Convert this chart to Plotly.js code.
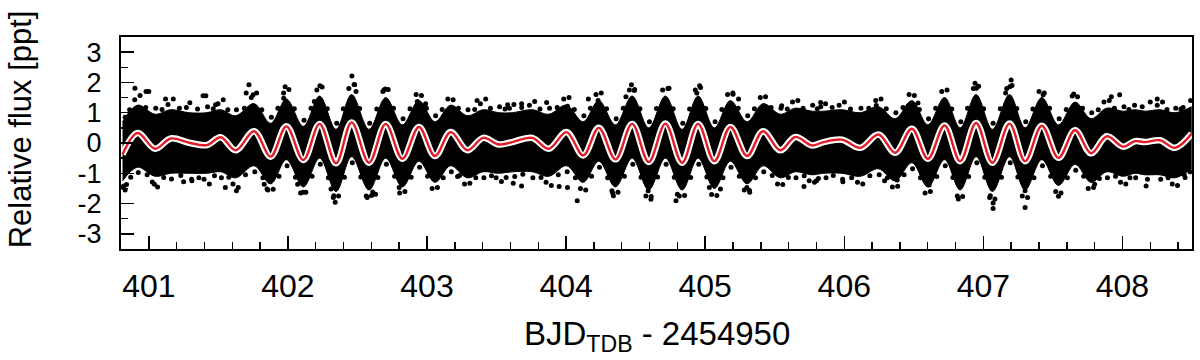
<!DOCTYPE html>
<html>
<head>
<meta charset="utf-8">
<script src="https://cdn.plot.ly/plotly-3.0.1.min.js"></script>
<style>
  html, body { margin: 0; padding: 0; background: #fff; }
  #lc { width: 1200px; height: 360px; }
</style>
</head>
<body>
<div id="lc"></div>
<script>
// model curve: turning points (days, ppt)
var modelX = [400.811, 400.919, 401.045, 401.158, 401.29, 401.417, 401.517, 401.625, 401.757, 401.876,
  401.989, 402.111, 402.228, 402.346, 402.458, 402.583, 402.703, 402.823, 402.942, 403.057,
  403.170, 403.290, 403.404, 403.517, 403.613, 403.756, 403.876, 404.003, 404.123, 404.235,
  404.355, 404.475, 404.594, 404.714, 404.834, 404.949, 405.066, 405.181, 405.301, 405.416,
  405.540, 405.648, 405.768, 405.851, 405.983, 406.115, 406.246, 406.366, 406.486, 406.601,
  406.721, 406.833, 406.948, 407.065, 407.188, 407.300, 407.420, 407.540, 407.659, 407.774,
  407.887, 408.006, 408.091, 408.162, 408.270, 408.378, 408.498];
var modelY = [-0.38, 0.33, -0.19, 0.15, 0.01, -0.07, 0.19, -0.24, 0.39, -0.45,
  0.55, -0.56, 0.63, -0.67, 0.68, -0.65, 0.63, -0.52, 0.53, -0.43,
  0.36, -0.24, 0.17, -0.05, 0.03, 0.17, -0.19, 0.36, -0.41, 0.50,
  -0.54, 0.63, -0.63, 0.64, -0.65, 0.63, -0.60, 0.53, -0.43, 0.39,
  -0.24, 0.20, -0.08, 0.03, 0.11, -0.16, 0.28, -0.32, 0.47, -0.52,
  0.58, -0.60, 0.66, -0.65, 0.64, -0.60, 0.57, -0.49, 0.42, -0.34,
  0.22, -0.12, 0.06, 0.03, 0.09, -0.16, 0.31];

// edges of the dense part of the point cloud, at the same times
var cloudHi = [0.70, 1.25, 0.95, 1.10, 1.00, 1.00, 1.10, 0.90, 1.30, 0.65,
  1.45, 0.55, 1.55, 0.45, 1.60, 0.45, 1.50, 0.60, 1.40, 0.70,
  1.25, 0.90, 1.10, 1.00, 1.00, 1.10, 0.95, 1.25, 0.70, 1.40,
  0.60, 1.55, 0.50, 1.55, 0.45, 1.55, 0.50, 1.40, 0.70, 1.30,
  0.95, 1.15, 1.05, 1.05, 1.10, 1.00, 1.20, 0.80, 1.40, 0.60,
  1.50, 0.50, 1.60, 0.45, 1.60, 0.50, 1.50, 0.60, 1.35, 0.80,
  1.15, 1.05, 1.10, 1.05, 1.10, 1.00, 1.20];
var cloudLo = [-1.25, -0.80, -1.10, -1.00, -1.00, -1.00, -0.95, -1.15, -0.75, -1.35,
  -0.55, -1.45, -0.50, -1.60, -0.45, -1.55, -0.50, -1.45, -0.60, -1.30,
  -0.75, -1.15, -0.95, -1.00, -0.95, -0.95, -1.10, -0.75, -1.30, -0.60,
  -1.45, -0.50, -1.55, -0.50, -1.55, -0.50, -1.50, -0.60, -1.35, -0.75,
  -1.15, -0.95, -1.05, -1.00, -1.00, -1.10, -0.85, -1.25, -0.65, -1.45,
  -0.55, -1.55, -0.45, -1.60, -0.45, -1.55, -0.55, -1.40, -0.70, -1.30,
  -0.95, -1.10, -1.00, -1.05, -1.05, -1.15, -0.85];

// loose points along the edges of the cloud
var edgePts = [
  [400.812,-1.46],[400.83,0.85],[400.84,-1.37],[400.862,1.1],[400.870,-1.13],
  [400.899,1.43],[400.937,1.57],[400.924,-0.97],[400.978,1.17],[400.988,-1.05],
  [401.025,-1.29],[401.063,-1.45],[401.05,1.15],[401.095,1.11],[401.107,-1.14],
  [401.138,1.27],[401.176,1.45],[401.163,-1.19],[401.22,1.15],[401.23,-1.07],
  [401.27,1.17],[401.308,-1.2],[401.295,1.33],[401.35,1.12],[401.36,-1.15],
  [401.397,-1.2],[401.435,-1.35],[401.422,1.2],[401.463,1.13],[401.472,-1.08],
  [401.497,1.3],[401.535,1.43],[401.522,-1.15],[401.568,1.1],[401.575,-1.13],
  [401.605,-1.35],[401.643,-1.47],[401.63,1.1],[401.687,1.15],[401.695,-1.05],
  [401.737,1.5],[401.775,1.65],[401.762,-0.95],[401.812,1.1],[401.82,-1.15],
  [401.856,-1.55],[401.894,-1.53],[401.881,0.85],[401.928,1.15],[401.936,-1.1],
  [401.969,1.65],[402.007,1.77],[401.994,-0.75],[402.046,1.13],[402.054,-1.13],
  [402.091,-1.65],[402.129,-1.63],[402.116,0.75],[402.166,1.15],[402.174,-1.1],
  [402.208,1.75],[402.246,1.85],[402.233,-0.7],[402.283,1.13],[402.291,-1.15],
  [402.326,-1.8],[402.364,-1.75],[402.351,0.65],[402.398,1.13],[402.406,-1.13],
  [402.438,1.8],[402.476,1.93],[402.463,-0.65],[402.516,1.14],[402.524,-1.12],
  [402.563,-1.75],[402.601,-1.73],[402.588,0.65],[402.639,1.12],[402.647,-1.14],
  [402.683,1.7],[402.721,1.77],[402.708,-0.7],[402.759,1.15],[402.767,-1.1],
  [402.803,-1.65],[402.841,-1.6],[402.828,0.8],[402.878,1.13],[402.886,-1.13],
  [402.922,1.6],[402.96,1.57],[402.947,-0.8],[402.996,1.15],[403.004,-1.1],
  [403.037,-1.5],[403.075,-1.47],[403.062,0.9],[403.109,1.11],[403.117,-1.15],
  [403.15,1.45],[403.188,1.43],[403.175,-0.95],[403.226,1.15],[403.234,-1.07],
  [403.27,-1.35],[403.308,-1.33],[403.295,1.1],[403.343,1.11],[403.351,-1.15],
  [403.384,1.3],[403.422,1.45],[403.409,-1.15],[403.456,1.15],[403.464,-1.08],
  [403.497,-1.15],[403.535,-1.27],[403.522,1.2],[403.561,1.12],[403.569,-1.14],
  [403.593,1.15],[403.631,-1.11],[403.625,1.27],[403.681,1.17],[403.689,-1.03],
  [403.736,1.25],[403.774,1.37],[403.761,-1.15],[403.812,1.12],[403.82,-1.14],
  [403.856,-1.3],[403.894,-1.4],[403.881,1.15],[403.936,1.17],[403.944,-1.05],
  [403.983,1.45],[404.021,1.5],[404.008,-0.95],[404.059,1.11],[404.067,-1.15],
  [404.103,-1.5],[404.141,-1.55],[404.128,0.9],[404.175,1.15],[404.183,-1.1],
  [404.215,1.6],[404.253,1.65],[404.24,-0.8],[404.291,1.13],[404.299,-1.15],
  [404.335,-1.65],[404.373,-1.63],[404.36,0.8],[404.411,1.15],[404.419,-1.1],
  [404.455,1.75],[404.493,1.77],[404.48,-0.7],[404.531,1.13],[404.539,-1.13],
  [404.574,-1.75],[404.612,-1.77],[404.599,0.7],[404.65,1.14],[404.658,-1.12],
  [404.694,1.75],[404.732,1.8],[404.719,-0.7],[404.77,1.13],[404.778,-1.13],
  [404.814,-1.75],[404.852,-1.73],[404.839,0.65],[404.888,1.12],[404.896,-1.14],
  [404.929,1.75],[404.967,1.83],[404.954,-0.7],[405.004,1.14],[405.012,-1.12],
  [405.046,-1.7],[405.084,-1.73],[405.071,0.7],[405.12,1.11],[405.128,-1.15],
  [405.161,1.6],[405.199,1.65],[405.186,-0.8],[405.237,1.15],[405.245,-1.1],
  [405.281,-1.55],[405.319,-1.57],[405.306,0.9],[405.354,1.13],[405.362,-1.15],
  [405.396,1.5],[405.434,1.53],[405.421,-0.95],[405.474,1.17],[405.482,-1.07],
  [405.52,-1.35],[405.558,-1.37],[405.545,1.15],[405.59,1.12],[405.598,-1.14],
  [405.628,1.35],[405.666,1.4],[405.653,-1.15],[405.704,1.15],[405.712,-1.08],
  [405.748,-1.25],[405.786,-1.3],[405.773,1.25],[405.806,1.13],[405.814,-1.17],
  [405.831,1.2],[405.869,-1.15],[405.865,1.3],[405.913,1.17],[405.921,-1.07],
  [405.963,1.25],[406.001,1.35],[405.988,-1.2],[406.045,1.12],[406.053,-1.15],
  [406.095,-1.3],[406.133,-1.35],[406.12,1.15],[406.176,1.15],[406.184,-1.08],
  [406.226,1.4],[406.264,1.45],[406.251,-1.05],[406.302,1.13],[406.31,-1.15],
  [406.346,-1.45],[406.384,-1.43],[406.371,1.0],[406.422,1.17],[406.43,-1.05],
  [406.466,1.6],[406.504,1.57],[406.491,-0.85],[406.54,1.11],[406.548,-1.15],
  [406.581,-1.65],[406.619,-1.6],[406.606,0.8],[406.657,1.15],[406.665,-1.11],
  [406.701,1.7],[406.739,1.75],[406.726,-0.75],[406.773,1.12],[406.781,-1.14],
  [406.813,-1.75],[406.851,-1.77],[406.838,0.7],[406.886,1.15],[406.894,-1.11],
  [406.928,1.8],[406.966,1.87],[406.953,-0.65],[407.002,1.13],[407.01,-1.13],
  [407.045,-1.8],[407.083,-1.85],[407.07,0.65],[407.122,1.13],[407.13,-1.13],
  [407.168,1.8],[407.206,1.9],[407.193,-0.65],[407.24,1.14],[407.248,-1.12],
  [407.28,-1.75],[407.318,-1.8],[407.305,0.7],[407.356,1.12],[407.364,-1.15],
  [407.4,1.7],[407.438,1.65],[407.425,-0.75],[407.476,1.15],[407.484,-1.1],
  [407.52,-1.6],[407.558,-1.65],[407.545,0.8],[407.596,1.11],[407.604,-1.15],
  [407.639,1.55],[407.677,1.53],[407.664,-0.9],[407.713,1.15],[407.721,-1.1],
  [407.754,-1.5],[407.792,-1.47],[407.779,1.0],[407.826,1.1],[407.834,-1.17],
  [407.867,1.35],[407.905,1.4],[407.892,-1.15],[407.942,1.15],[407.95,-1.1],
  [407.986,-1.3],[408.024,-1.35],[408.011,1.2],[408.046,1.11],[408.054,-1.15],
  [408.087,1.25],[408.095,-1.15],[408.142,1.2],[408.18,-1.2],[408.2,1.35],
  [408.25,1.25],[408.288,1.35],[408.275,-1.2],[408.32,1.11],[408.328,-1.15],
  [408.358,-1.35],[408.396,-1.4],[408.383,1.15],[408.436,1.17],[408.444,-1.05],
  [408.49,1.4],[408.485,-0.95]
];

// the far outliers, read point by point
var outlierPts = [
  [400.90,1.81],[400.98,1.70],[401.0,1.70],[401.12,1.45],[401.39,1.56],[401.41,1.56],
  [401.48,1.26],[401.72,1.92],[401.70,1.65],[401.75,1.59],[401.98,1.86],[401.97,1.48],
  [402.23,1.89],[402.19,1.37],[402.46,2.21],[402.48,1.92],[402.49,1.70],[402.69,1.75],
  [402.70,1.78],[402.93,1.37],[402.99,1.30],[403.36,1.40],[403.58,1.26],[403.68,1.30],
  [403.86,1.34],[404.01,1.21],[404.16,1.45],[404.23,1.40],[404.47,1.92],[404.49,1.73],
  [404.43,1.53],[404.74,1.81],[404.96,1.89],[404.94,1.65],[405.20,1.61],[405.24,1.45],
  [405.43,1.15],[405.55,1.23],[405.83,1.34],[406.23,1.24],[406.46,1.23],[406.53,1.32],
  [406.73,1.26],[406.94,1.97],[406.95,1.81],[407.20,2.08],[407.19,1.86],[407.16,1.65],
  [407.43,1.59],[407.65,1.62],[407.92,1.53],[407.98,1.59],[408.25,1.45],[408.42,1.12],
  [400.82,-1.42],[400.83,-1.55],[401.04,-1.36],[401.25,-1.28],[401.31,-1.25],[401.55,-1.47],
  [401.63,-1.58],[401.85,-1.52],[401.83,-1.36],[402.11,-1.63],[402.07,-1.36],[402.34,-1.96],
  [402.33,-1.74],[402.31,-1.52],[402.57,-1.80],[402.63,-1.69],[402.61,-1.62],[402.80,-1.47],
  [403.22,-1.11],[403.62,-1.33],[403.68,-1.42],[404.08,-1.91],[403.95,-1.44],[404.01,-1.47],
  [404.34,-1.74],[404.33,-1.58],[404.59,-1.58],[404.61,-1.86],[404.79,-1.91],[404.80,-1.69],
  [405.03,-1.47],[405.11,-1.52],[405.32,-1.63],[405.30,-1.47],[405.71,-1.44],[405.80,-1.25],
  [405.99,-1.28],[406.29,-1.25],[406.38,-1.22],[406.61,-1.39],[406.82,-1.85],[407.07,-2.16],
  [407.07,-1.98],[407.05,-1.74],[407.30,-2.13],[407.30,-1.58],[407.54,-1.76],[407.80,-1.36],
  [408.17,-1.42],[408.45,-1.14]
];

var xTicks = [401, 402, 403, 404, 405, 406, 407, 408];
var yTicks = [-3, -2, -1, 0, 1, 2, 3];

var fontFam = 'Liberation Sans, Arial, Helvetica, sans-serif';
var dots = edgePts.concat(outlierPts);

var data = [
  {x: modelX, y: cloudLo, mode: 'lines', line: {color: 'black', width: 1, shape: 'spline'},
   hoverinfo: 'skip', showlegend: false},
  {x: modelX, y: cloudHi, mode: 'lines', line: {color: 'black', width: 1, shape: 'spline'},
   fill: 'tonexty', fillcolor: 'black', hoverinfo: 'skip', showlegend: false},
  {x: dots.map(function (p) { return p[0]; }), y: dots.map(function (p) { return p[1]; }),
   mode: 'markers', marker: {color: 'black', size: 5}, showlegend: false},
  {x: modelX, y: modelY, mode: 'lines', line: {color: 'white', width: 6.5, shape: 'spline'},
   hoverinfo: 'skip', showlegend: false},
  {x: modelX, y: modelY, mode: 'lines', line: {color: 'rgb(225,30,40)', width: 2.4, shape: 'spline'},
   showlegend: false}
];

var layout = {
  width: 1200, height: 360,
  margin: {l: 121, r: 8, t: 37, b: 111},
  paper_bgcolor: 'white', plot_bgcolor: 'white',
  font: {family: fontFam, color: 'black'},
  xaxis: {
    range: [400.8, 408.5], tickmode: 'array', tickvals: xTicks, ticktext: xTicks.map(String),
    ticks: 'inside', ticklen: 13, tickwidth: 1.5, tickcolor: 'black',
    minor: {ticks: 'inside', ticklen: 7, tickwidth: 1.5, tickcolor: 'black', tick0: 401, dtick: 0.2},
    showline: true, linewidth: 2, linecolor: 'black', mirror: true,
    showgrid: false, zeroline: false,
    tickfont: {size: 32, family: fontFam}, ticklabelstandoff: 8
  },
  yaxis: {
    range: [-3.5, 3.5], tickmode: 'array', tickvals: yTicks, ticktext: yTicks.map(String),
    ticks: 'inside', ticklen: 13, tickwidth: 1.5, tickcolor: 'black',
    minor: {ticks: 'inside', ticklen: 7, tickwidth: 1.5, tickcolor: 'black', tick0: 0, dtick: 0.5},
    showline: true, linewidth: 2, linecolor: 'black', mirror: true,
    showgrid: false, zeroline: false,
    tickfont: {size: 27, family: fontFam}, ticklabelstandoff: 12
  },
  annotations: [
    {text: 'Relative flux [ppt]', xref: 'paper', yref: 'paper', x: -0.094, y: 0.566,
     xanchor: 'center', yanchor: 'middle', textangle: -90, showarrow: false,
     font: {size: 31, family: fontFam, color: 'black'}},
    {text: 'BJD<sub>TDB</sub> - 2454950', xref: 'paper', yref: 'paper', x: 0.5, y: -0.41,
     xanchor: 'center', yanchor: 'middle', showarrow: false,
     font: {size: 33, family: fontFam, color: 'black'}}
  ]
};

Plotly.newPlot('lc', data, layout, {displayModeBar: false, staticPlot: true});
</script>
</body>
</html>
